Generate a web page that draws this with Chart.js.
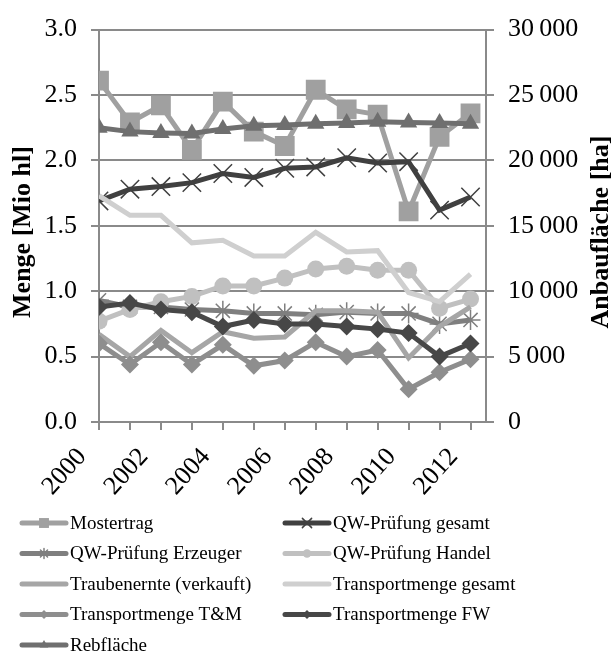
<!DOCTYPE html>
<html>
<head>
<meta charset="utf-8">
<script src="https://cdn.jsdelivr.net/npm/chart.js@4.4.0/dist/chart.umd.min.js"></script>
<style>
  html, body { margin: 0; padding: 0; background: #fff; }
  #wrap { width: 615px; height: 655px; }
</style>
</head>
<body>
<div id="wrap"><canvas id="chart" width="615" height="655"></canvas></div>
<script>
// years on the x axis
const years = [2000, 2001, 2002, 2003, 2004, 2005, 2006, 2007, 2008, 2009, 2010, 2011, 2012];

// left axis series, Mio hl
const mostertrag      = [2.61, 2.29, 2.42, 2.08, 2.45, 2.22, 2.11, 2.54, 2.39, 2.35, 1.61, 2.18, 2.36];
const qwGesamt        = [1.69, 1.78, 1.80, 1.83, 1.90, 1.87, 1.94, 1.95, 2.02, 1.98, 1.99, 1.62, 1.72];
const qwErzeuger      = [0.93, 0.88, 0.88, 0.86, 0.85, 0.83, 0.83, 0.82, 0.84, 0.83, 0.83, 0.75, 0.78];
const qwHandel        = [0.77, 0.86, 0.92, 0.96, 1.04, 1.04, 1.10, 1.17, 1.19, 1.16, 1.16, 0.87, 0.94];
const traubenernte    = [0.67, 0.50, 0.70, 0.53, 0.69, 0.64, 0.65, 0.85, 0.85, 0.84, 0.49, 0.73, 0.88];
const transportGesamt = [1.73, 1.58, 1.58, 1.37, 1.39, 1.27, 1.27, 1.45, 1.30, 1.31, 0.99, 0.92, 1.13];
const transportTM     = [0.60, 0.44, 0.61, 0.44, 0.59, 0.43, 0.47, 0.61, 0.50, 0.55, 0.25, 0.38, 0.48];
const transportFW     = [0.88, 0.91, 0.86, 0.84, 0.73, 0.78, 0.75, 0.75, 0.73, 0.71, 0.68, 0.50, 0.60];

// right axis series, ha
const rebflaeche = [22500, 22200, 22100, 22050, 22400, 22650, 22700, 22800, 22850, 22950, 22900, 22850, 22800];

const leftTicks = [0, 0.5, 1.0, 1.5, 2.0, 2.5, 3.0];
const rightTicks = [0, 5000, 10000, 15000, 20000, 25000, 30000];
const leftTitle = 'Menge [Mio hl]';
const rightTitle = 'Anbaufläche [ha]';

const FONT = '"Liberation Serif", "Times New Roman", serif';

function pts(arr) {
  return years.map((y, i) => ({ x: y, y: arr[i] }));
}

function series(label, arr, color, style, radius, axis) {
  return {
    label: label,
    data: pts(arr),
    yAxisID: axis || 'y',
    borderColor: color,
    backgroundColor: color,
    borderWidth: 5,
    tension: 0,
    pointStyle: style || false,
    pointRadius: style ? radius : 0,
    pointHoverRadius: style ? radius : 0,
    pointBackgroundColor: color,
    pointBorderColor: color,
    pointBorderWidth: (style === 'crossRot' || style === 'star') ? 1.5 : 0
  };
}

const datasets = [
  series('Mostertrag', mostertrag, '#a0a0a0', 'rect', 14),
  series('QW-Prüfung gesamt', qwGesamt, '#404040', 'crossRot', 13),
  series('QW-Prüfung Erzeuger', qwErzeuger, '#7f7f7f', 'star', 10),
  series('QW-Prüfung Handel', qwHandel, '#c0c0c0', 'circle', 8.5),
  series('Traubenernte (verkauft)', traubenernte, '#a6a6a6', null, 0),
  series('Transportmenge gesamt', transportGesamt, '#cfcfcf', null, 0),
  series('Transportmenge T&M', transportTM, '#8e8e8e', 'rectRot', 9),
  series('Transportmenge FW', transportFW, '#474747', 'rectRot', 9),
  series('Rebfläche', rebflaeche, '#6f6f6f', 'triangle', 10, 'y1')
];
// excel draws the later series on top
datasets.forEach((d, i) => { d.order = datasets.length - i; });

// axis titles, both read bottom to top
const titlePlugin = {
  id: 'axisTitles',
  afterDraw(chart) {
    const ctx = chart.ctx;
    const cy = 232;
    ctx.save();
    ctx.fillStyle = '#000';
    ctx.font = 'bold 26px ' + FONT;
    ctx.textAlign = 'center';
    ctx.textBaseline = 'middle';
    [[23, leftTitle], [601, rightTitle]].forEach(([cx, txt]) => {
      ctx.save();
      ctx.translate(cx, cy);
      ctx.rotate(-Math.PI / 2);
      ctx.fillText(txt, 0, 0);
      ctx.restore();
    });
    ctx.restore();
  }
};

// two column legend under the plot
const legendPlugin = {
  id: 'twoColLegend',
  afterDraw(chart) {
    const ctx = chart.ctx;
    ctx.save();
    datasets.forEach((d, i) => {
      const col = i % 2;
      const row = Math.floor(i / 2);
      const x0 = col ? 285 : 22;
      const y = 523 + row * 30.5;
      ctx.strokeStyle = d.borderColor;
      ctx.lineWidth = 5;
      ctx.lineCap = 'round';
      ctx.beginPath();
      ctx.moveTo(x0, y);
      ctx.lineTo(x0 + 44, y);
      ctx.stroke();
      if (d.pointStyle) {
        ctx.fillStyle = d.borderColor;
        ctx.strokeStyle = d.borderColor;
        ctx.lineWidth = d.pointBorderWidth || 1;
        Chart.helpers.drawPoint(ctx, {
          pointStyle: d.pointStyle,
          radius: d.pointRadius * 0.5,
          rotation: 0,
          borderWidth: d.pointBorderWidth
        }, x0 + 22, y);
      }
      ctx.fillStyle = '#000';
      ctx.font = '19px ' + FONT;
      ctx.textAlign = 'left';
      ctx.textBaseline = 'middle';
      ctx.fillText(d.label, x0 + 48, y + 1);
    });
    ctx.restore();
  }
};

new Chart(document.getElementById('chart'), {
  type: 'line',
  data: { datasets: datasets },
  plugins: [legendPlugin, titlePlugin],
  options: {
    responsive: false,
    animation: false,
    devicePixelRatio: 1,
    layout: { padding: { top: 22, left: 0, right: 0, bottom: 123 } },
    plugins: {
      legend: { display: false },
      tooltip: { enabled: false }
    },
    scales: {
      x: {
        type: 'linear',
        min: 2000,
        max: 2012.5,
        border: { color: '#8a8a8a', width: 2 },
        grid: { drawOnChartArea: false, drawTicks: true, tickLength: 8, color: '#8a8a8a', lineWidth: 2 },
        ticks: {
          stepSize: 1,
          includeBounds: false,
          autoSkip: false,
          minRotation: 48,
          maxRotation: 48,
          padding: 12,
          labelOffset: -17,
          color: '#000',
          font: { family: FONT, size: 26 },
          callback: v => (v % 2 === 0 ? String(v) : '')
        },
        afterFit: s => { s.height = 110; }
      },
      y: {
        position: 'left',
        min: 0,
        max: 3,
        border: { color: '#8a8a8a', width: 2 },
        grid: { color: '#8a8a8a', lineWidth: 2, tickLength: 8 },
        afterBuildTicks: s => { s.ticks = leftTicks.map(v => ({ value: v })); },
        ticks: {
          padding: 14,
          color: '#000',
          font: { family: FONT, size: 26 },
          callback: v => v.toFixed(1)
        },
        afterFit: s => { s.width = 99; }
      },
      y1: {
        position: 'right',
        min: 0,
        max: 30000,
        border: { color: '#8a8a8a', width: 2 },
        grid: { drawOnChartArea: false, color: '#8a8a8a', lineWidth: 2, tickLength: 8 },
        afterBuildTicks: s => { s.ticks = rightTicks.map(v => ({ value: v })); },
        ticks: {
          padding: 14,
          color: '#000',
          font: { family: FONT, size: 26 },
          callback: v => String(v).replace(/\B(?=(\d{3})+(?!\d))/g, '\u2009')
        },
        afterFit: s => { s.width = 129; }
      }
    }
  }
});
</script>
</body>
</html>
